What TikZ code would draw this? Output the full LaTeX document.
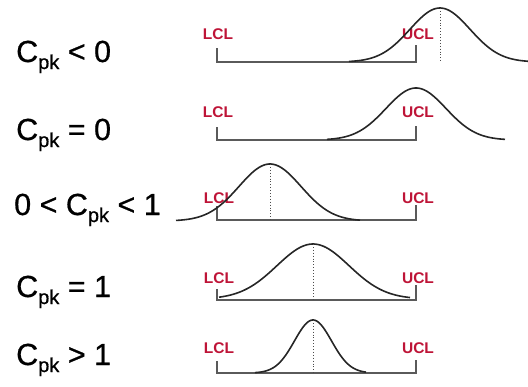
\documentclass[tikz,border=0pt]{standalone}
\usepackage{fontspec}
\setmainfont{Liberation Sans}
\newfontfamily\lblfont{Liberation Sans}[FakeBold=0.7]
\definecolor{limc}{RGB}{190,20,55}
\definecolor{brc}{RGB}{90,90,90}
\newcommand{\cpk}{C\raisebox{-7pt}{\fontsize{20}{20}\selectfont pk}}
\begin{document}
\begin{tikzpicture}[x=1pt,y=-1pt,
  rowlbl/.style={anchor=base west,inner sep=0pt,font=\lblfont\fontsize{30.5}{30.5}\selectfont},
  lim/.style={text=limc,font=\bfseries\fontsize{15.5}{15.5}\selectfont,inner sep=0pt},
  bracket/.style={brc,line width=1.4pt},
  bell/.style={black!85,line width=1.6pt},
  mean/.style={black!70,dotted,line width=0.9pt}]
\useasboundingbox (0,0) rectangle (528,386);

% row labels
\node[rowlbl] (r1) at (16,62) {\cpk{} < 0};
\node[rowlbl] (r2) at (16,140) {\cpk{} = 0};
\node[rowlbl] (r3) at (14,215) {0 < \cpk{} < 1};
\node[rowlbl] (r4) at (16,297) {\cpk{} = 1};
\node[rowlbl] (r5) at (16,365) {\cpk{} > 1};

% limit labels
\node[lim] (l1) at (218,34) {LCL};  \node[lim] (u1) at (418,34) {UCL};
\node[lim] (l2) at (218,112) {LCL}; \node[lim] (u2) at (418,112) {UCL};
\node[lim] (l3) at (219,198) {LCL}; \node[lim] (u3) at (418,198) {UCL};
\node[lim] (l4) at (219,278) {LCL}; \node[lim] (u4) at (418,278) {UCL};
\node[lim] (l5) at (219,348) {LCL}; \node[lim] (u5) at (418,348) {UCL};

% brackets
\coordinate (a1) at (217,48);  \coordinate (c1) at (416,62);  \coordinate (b1) at (416,45);
\coordinate (a2) at (217,127); \coordinate (c2) at (416,140); \coordinate (b2) at (416,126);
\coordinate (a3) at (217,206); \coordinate (c3) at (416,220); \coordinate (b3) at (416,205);
\coordinate (a4) at (217,289); \coordinate (c4) at (416,300); \coordinate (b4) at (416,285);
\coordinate (a5) at (217,361); \coordinate (c5) at (416,373); \coordinate (b5) at (416,360);
\foreach \i in {1,...,5} \draw[bracket] (a\i) |- (c\i) -- (b\i);

% bell curves
\draw[bell] plot[domain=349:528,samples=90] (\x,{62-54*exp(-0.5*pow((\x-440)/30,2))});
\draw[bell] plot[domain=327:505,samples=90] (\x,{140-52*exp(-0.5*pow((\x-416)/30,2))});
\draw[bell] plot[domain=176:360,samples=90] (\x,{221-57*exp(-0.5*pow((\x-270)/31,2))});
\draw[bell] plot[domain=219:410,samples=90] (\x,{299-55*exp(-0.5*pow((\x-313)/36,2))});
\draw[bell] plot[domain=255:366,samples=90] (\x,{373-53*exp(-0.5*pow((\x-313)/18.5,2))});

% mean lines
\coordinate (m1t) at (440,8);   \coordinate (m1b) at (440,62);
\coordinate (m3t) at (270,164); \coordinate (m3b) at (270,220);
\coordinate (m4t) at (313,244); \coordinate (m4b) at (313,300);
\coordinate (m5t) at (313,320); \coordinate (m5b) at (313,373);
\foreach \i in {1,3,4,5} \draw[mean] (m\i t) -- (m\i b);
\end{tikzpicture}
\end{document}
